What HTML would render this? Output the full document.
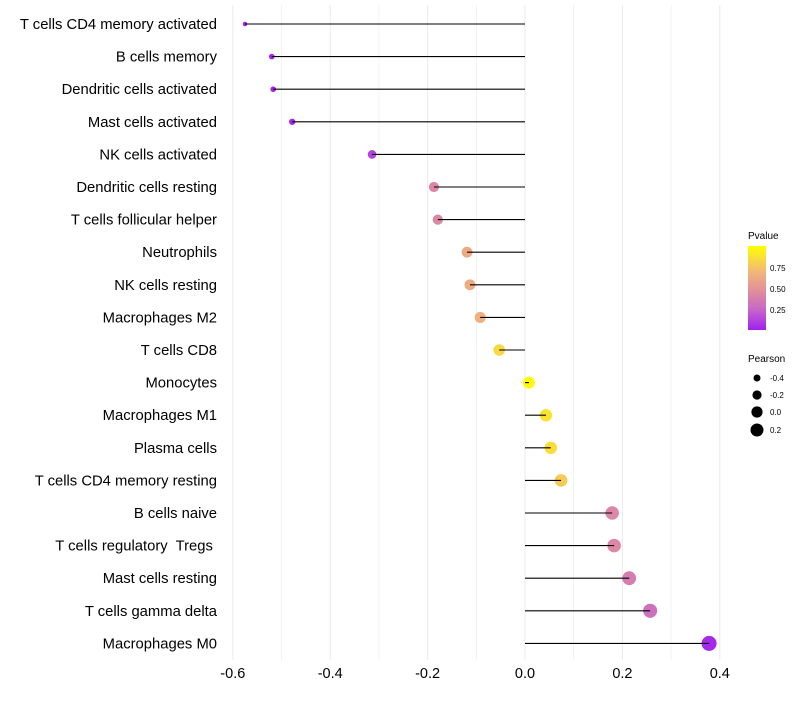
<!DOCTYPE html>
<html><head><meta charset="utf-8"><style>
body{margin:0;background:#fff;font-family:"Liberation Sans",sans-serif}
text{white-space:pre}
</style></head><body>
<svg id="chart" width="800" height="700" xmlns="http://www.w3.org/2000/svg">
<defs><linearGradient id="pg" x1="0" y1="1" x2="0" y2="0">
<stop offset="0" stop-color="#a020f0"/><stop offset="0.25" stop-color="#c868c8"/><stop offset="0.45" stop-color="#e08c9c"/><stop offset="0.7" stop-color="#f2b878"/><stop offset="1" stop-color="#ffff00"/></linearGradient></defs>
<g id="grid"></g><g id="marks"></g><g id="labels"></g>
<g>
<text x="748" y="239" font-size="10">Pvalue</text>
<rect x="748" y="246" width="18" height="84" fill="url(#pg)"/>
<text x="770" y="271" font-size="8">0.75</text>
<text x="770" y="292" font-size="8">0.50</text>
<text x="770" y="313" font-size="8">0.25</text>
</g>
<g>
<text x="748" y="362" font-size="10">Pearson</text>
<circle cx="757" cy="378" r="3.5"/><text x="770" y="381" font-size="8">-0.4</text>
<circle cx="757" cy="395" r="4.6"/><text x="770" y="398" font-size="8">-0.2</text>
<circle cx="757" cy="412" r="5.6"/><text x="770" y="415" font-size="8">0.0</text>
<circle cx="757" cy="430" r="6.5"/><text x="770" y="433" font-size="8">0.2</text>
</g>
</svg>
<script>
const categories=["T cells CD4 memory activated","B cells memory","Dendritic cells activated","Mast cells activated","NK cells activated","Dendritic cells resting","T cells follicular helper","Neutrophils","NK cells resting","Macrophages M2","T cells CD8","Monocytes","Macrophages M1","Plasma cells","T cells CD4 memory resting","B cells naive","T cells regulatory  Tregs ","Mast cells resting","T cells gamma delta","Macrophages M0"];
const pearson=[-0.575,-0.52,-0.517,-0.478,-0.314,-0.187,-0.179,-0.119,-0.113,-0.092,-0.053,0.008,0.043,0.053,0.074,0.179,0.183,0.214,0.257,0.378];
const pvalues=[0.01,0.02,0.02,0.03,0.12,0.42,0.42,0.62,0.63,0.66,0.84,0.98,0.88,0.86,0.78,0.42,0.42,0.36,0.3,0.03];
const xTicks=[-0.6,-0.4,-0.2,0.0,0.2,0.4];
const xTickLabels=["-0.6","-0.4","-0.2","0.0","0.2","0.4"];
const NS="http://www.w3.org/2000/svg";
const x=v=>525+v*487;
const y=i=>24+i*32.6;
const r=v=>Math.sqrt(Math.max(1.5,36+54*v));
const stops=[[0,[160,32,240]],[0.25,[200,104,200]],[0.45,[224,140,156]],[0.7,[242,184,120]],[1,[255,255,0]]];
function col(p){for(let k=1;k<stops.length;k++){if(p<=stops[k][0]){const a=stops[k-1],b=stops[k],t=(p-a[0])/(b[0]-a[0]);return "rgb("+a[1].map((c,j)=>Math.round(c+(b[1][j]-c)*t)).join(",")+")";}}return "rgb(255,255,0)";}
function mk(t,attrs,parent){const e=document.createElementNS(NS,t);for(const k in attrs)e.setAttribute(k,attrs[k]);parent.appendChild(e);return e;}
const grid=document.getElementById('grid'),marks=document.getElementById('marks'),labels=document.getElementById('labels');
for(let v=-0.6;v<=0.41;v+=0.1){const g=mk('line',{x1:x(v),x2:x(v),y1:5,y2:660,stroke:'#ebebeb','stroke-width':Math.abs(Math.round(v*10))%2===0?1:0.6},grid);

}
xTicks.forEach((v,i)=>{const t=mk('text',{x:x(v),y:678,'font-size':14.5,'text-anchor':'middle',fill:'#000'},labels);t.textContent=xTickLabels[i];

});
categories.forEach((c,i)=>{
const t=mk('text',{x:217,y:y(i)+5,'font-size':14.8,'text-anchor':'end',fill:'#000'},labels);t.textContent=c;


const ci=mk('circle',{cx:x(pearson[i]),cy:y(i),r:r(pearson[i]),fill:col(pvalues[i])},marks);


const l=mk('line',{x1:x(0),x2:x(pearson[i]),y1:y(i),y2:y(i),stroke:'#000','stroke-width':1.1},marks);


});
</script>
</body></html>
